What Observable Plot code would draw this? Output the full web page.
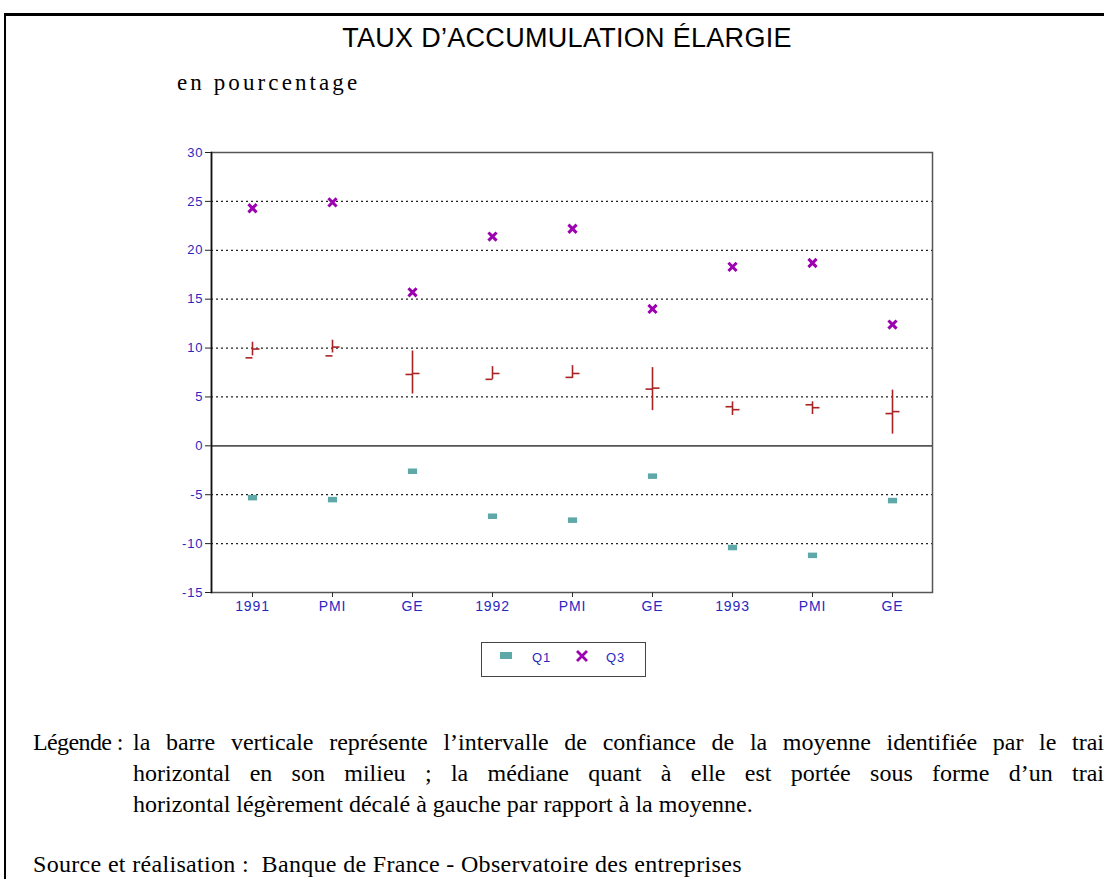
<!DOCTYPE html>
<html>
<head>
<meta charset="utf-8">
<script src="https://cdn.jsdelivr.net/npm/d3@7"></script>
<script src="https://cdn.jsdelivr.net/npm/@observablehq/plot@0.6"></script>
<style>
  html, body { margin: 0; padding: 0; background: #fff; }
  body { width: 1104px; height: 879px; overflow: hidden; position: relative; }
  #frame { position: absolute; left: 4px; top: 13px; width: 1120px; height: 900px;
           border-top: 3px solid #000; border-left: 2px solid #000; }
  #title { position: absolute; left: 567px; top: 23px; transform: translateX(-50%);
           font-family: "Liberation Sans", Arial, sans-serif; font-size: 27px; letter-spacing: 0.3px;
           white-space: nowrap; color: #000; }
  #unit { position: absolute; left: 177px; top: 70px; font-family: "Liberation Serif", serif;
          font-size: 23px; letter-spacing: 3.1px; white-space: nowrap; }
  #chart { position: absolute; left: 0; top: 140px; }
  #chart svg text { letter-spacing: 0.9px; }
  #legend { position: absolute; left: 481px; top: 642px; width: 163px; height: 33px;
            border: 1.5px solid #444; font-family: "Liberation Sans", Arial, sans-serif;
            font-size: 13px; letter-spacing: 1px; color: #2828c0; }
  #legend span { position: absolute; top: 7px; }
  #caption { position: absolute; left: 33px; top: 729px; width: 1071px;
             font-family: "Liberation Serif", serif; font-size: 24px; color: #000; }
  .lab { position: absolute; left: 0; white-space: nowrap; letter-spacing: -0.6px; }
  .ln { position: absolute; left: 100px; width: 971px; white-space: nowrap; }
  .just { text-align: justify; text-align-last: justify; white-space: normal; }
  #source { position: absolute; left: 33px; top: 851px; font-family: "Liberation Serif", serif;
            font-size: 24px; letter-spacing: 0.32px; white-space: pre; }
</style>
</head>
<body>
<div id="frame"></div>
<div id="title"></div>
<div id="unit">en pourcentage</div>
<div id="chart"></div>
<div id="legend"></div>
<div id="caption"></div>
<div id="source"></div>
<script>
const categories = ["1991", "PMI", "GE", "1992", "PMI", "GE", "1993", "PMI", "GE"];
const q1 = [-5.3, -5.5, -2.6, -7.2, -7.6, -3.1, -10.4, -11.2, -5.6];
const q3 = [24.3, 24.9, 15.7, 21.4, 22.2, 14.0, 18.3, 18.7, 12.4];
const mean = [9.9, 10.1, 7.4, 7.4, 7.4, 5.9, 3.7, 3.9, 3.5];
const ciLow = [9.2, 9.5, 5.3, 6.8, 6.9, 3.6, 3.1, 3.2, 1.2];
const ciHigh = [10.6, 10.8, 9.7, 8.1, 8.2, 8.0, 4.5, 4.5, 5.7];
const median = [9.0, 9.2, 7.3, 6.8, 7.0, 5.8, 4.0, 4.2, 3.3];
const yTicks = [30, 25, 20, 15, 10, 5, 0, -5, -10, -15];
const gridValues = [25, 20, 15, 10, 5, -5, -10];
const legendLabels = ["Q1", "Q3"];
const titleText = "TAUX D’ACCUMULATION ÉLARGIE";
const captionLabel = "Légende :";
const captionLines = [
  "la barre verticale représente l’intervalle de confiance de la moyenne identifiée par le trai",
  "horizontal en son milieu ; la médiane quant à elle est portée sous forme d’un trai",
  "horizontal légèrement décalé à gauche par rapport à la moyenne."
];
const sourceText = "Source et réalisation :  Banque de France - Observatoire des entreprises";

const rows = categories.map((c, i) => ({
  i, c, q1: q1[i], q3: q3[i], mean: mean[i], lo: ciLow[i], hi: ciHigh[i], med: median[i]
}));

const red = "#a82424";
const teal = "#5fa8a8";
const purple = "#9c00b0";
const blue = "#2828c0";

// custom symbols
const tickRight = { draw(ctx, size) { const r = Math.sqrt(size / Math.PI); ctx.moveTo(0, 0); ctx.lineTo(r, 0); } };
const tickLeft = { draw(ctx, size) { const r = Math.sqrt(size / Math.PI); ctx.moveTo(-r, 0); ctx.lineTo(0, 0); } };
const flatRect = { draw(ctx, size) { const r = Math.sqrt(size / Math.PI); ctx.rect(-r, -r * 0.6, 2 * r, r * 1.2); ctx.closePath(); } };

const chart = Plot.plot({
  width: 1104,
  height: 500,
  marginLeft: 211,
  marginRight: 172,
  marginTop: 12,
  marginBottom: 48,
  style: { fontFamily: "Liberation Sans, Arial, sans-serif", fontSize: "13px", background: "transparent", overflow: "visible" },
  x: { type: "point", domain: d3.range(categories.length), padding: 0.5 },
  y: { domain: [-15, 30] },
  marks: [
    Plot.ruleY(gridValues, { stroke: "#222", strokeWidth: 1.2, strokeDasharray: "2,3" }),
    Plot.ruleY([0], { stroke: "#555", strokeWidth: 1.6 }),
    Plot.frame({ stroke: "#555", strokeWidth: 1.5 }),
    Plot.frame({ anchor: "left", stroke: "#111", strokeWidth: 1.6 }),
    Plot.axisY({ ticks: yTicks, tickSize: 6, tickPadding: 2, stroke: "#222", fill: blue, tickFormat: d => String(d), label: null, fontSize: 13 }),
    Plot.axisX({ tickSize: 5, tickPadding: 4, stroke: "#333", fill: blue, tickFormat: i => categories[i], label: null, fontSize: 14 }),
    Plot.ruleX(rows, { x: "i", y1: "lo", y2: "hi", stroke: red, strokeWidth: 1.6 }),
    Plot.dot(rows, { x: "i", y: "mean", symbol: tickRight, r: 7, stroke: red, strokeWidth: 1.6, fill: "none" }),
    Plot.dot(rows, { x: "i", y: "med", symbol: tickLeft, r: 7, stroke: red, strokeWidth: 1.6, fill: "none" }),
    Plot.dot(rows, { x: "i", y: "q1", symbol: flatRect, r: 4.6, fill: teal, stroke: "none" }),
    Plot.dot(rows, { x: "i", y: "q3", symbol: "times", r: 3.8, stroke: purple, strokeWidth: 3 })
  ]
});
document.getElementById("chart").appendChild(chart);

// legend
const lg = document.getElementById("legend");
lg.innerHTML = `
  <svg width="163" height="33" style="position:absolute;left:0;top:0">
    <rect x="18" y="9" width="12" height="7" fill="${teal}"></rect>
    <path d="M95,8 L105,18 M105,8 L95,18" stroke="${purple}" stroke-width="2.8"></path>
  </svg>
  <span style="left:50px">${legendLabels[0]}</span>
  <span style="left:124px">${legendLabels[1]}</span>`;

// caption
const cap = document.getElementById("caption");
cap.innerHTML = `<div class="lab" style="top:0">${captionLabel}</div>
  <div class="ln just" style="top:0">${captionLines[0]}</div>
  <div class="ln just" style="top:31px">${captionLines[1]}</div>
  <div class="ln" style="top:62px">${captionLines[2]}</div>`;
document.getElementById("source").textContent = sourceText;
document.getElementById("title").textContent = titleText;
</script>
</body>
</html>
